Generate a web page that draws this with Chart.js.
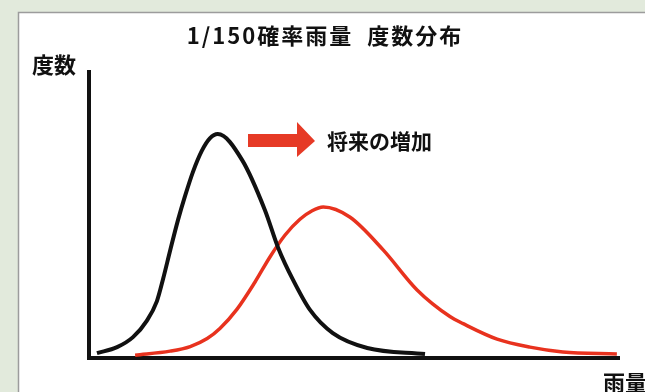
<!DOCTYPE html>
<html>
<head>
<meta charset="utf-8">
<script src="https://cdn.jsdelivr.net/npm/chart.js@4.4.1/dist/chart.umd.min.js"></script>
<style>
  html, body { margin: 0; padding: 0; background: #e2eadc; }
  #wrap { width: 645px; height: 392px; }
</style>
</head>
<body>
<div id="wrap"><canvas id="grafico" width="645" height="392"></canvas></div>
<script>
// 現在の分布 (黒)
const atualX = [1.5, 5.3, 8.3, 10.9, 12.8, 14.0, 15.3, 16.8, 18.1, 19.6, 21.3, 22.8, 24.3, 28.9, 33.2, 35.7, 38.5, 41.7, 46.0, 52.5, 63.4];
const atualY = [1.7, 3.8, 7.3, 13.0, 19.8, 27.8, 37.5, 48.3, 56.5, 65.0, 72.5, 76.8, 78.3, 69.2, 51.7, 38.5, 27.3, 16.8, 8.7, 3.5, 1.4];

// 将来の分布 (赤)
const futuroX = [8.7, 15.3, 19.1, 22.3, 24.7, 27.9, 31.3, 34.2, 37.0, 39.8, 42.1, 44.2, 49.2, 55.5, 61.9, 68.1, 70.6, 77.0, 83.2, 89.4, 99.6];
const futuroY = [1.0, 2.4, 4.0, 6.8, 10.3, 17.0, 26.5, 35.5, 43.0, 48.5, 51.5, 52.8, 49.3, 37.8, 23.8, 14.5, 12.0, 6.6, 3.8, 2.1, 1.4];

const titulo = "1/150確率雨量  度数分布";
const rotuloY = "度数";
const rotuloX = "雨量";
const rotuloSeta = "将来の増加";

const fonte = '"Noto Sans CJK JP", "Noto Sans", sans-serif';

function pontos(xs, ys) {
  let lista = [];
  for (let i = 0; i < xs.length; i++) {
    lista.push({ x: xs[i], y: ys[i] });
  }
  return lista;
}

// fundo, moldura e textos
const decoracao = {
  id: "decoracao",
  beforeDraw(chart) {
    const ctx = chart.ctx;
    ctx.save();
    ctx.fillStyle = "#e2eadc";
    ctx.fillRect(0, 0, chart.width, chart.height);
    ctx.fillStyle = "#ffffff";
    ctx.fillRect(18, 12, chart.width - 18, chart.height - 12);
    ctx.strokeStyle = "#9c9c9c";
    ctx.lineWidth = 1.5;
    ctx.beginPath();
    ctx.moveTo(18.5, chart.height);
    ctx.lineTo(18.5, 12.5);
    ctx.lineTo(chart.width, 12.5);
    ctx.stroke();
    ctx.restore();
  },
  afterDraw(chart) {
    const ctx = chart.ctx;
    ctx.save();
    ctx.fillStyle = "#111111";
    ctx.textBaseline = "middle";

    ctx.font = "bold 22px " + fonte;
    ctx.textAlign = "center";
    ctx.letterSpacing = "2px";
    ctx.fillText(titulo, 325, 36);
    ctx.letterSpacing = "0px";

    ctx.textAlign = "left";
    ctx.fillText(rotuloY, 32, 65);
    ctx.fillText(rotuloX, 603, 383);

    ctx.font = "bold 21px " + fonte;
    ctx.fillText(rotuloSeta, 327, 141);

    // seta vermelha
    ctx.fillStyle = "#e63a26";
    ctx.beginPath();
    ctx.moveTo(248, 134);
    ctx.lineTo(297, 134);
    ctx.lineTo(297, 122);
    ctx.lineTo(315, 141);
    ctx.lineTo(297, 157);
    ctx.lineTo(297, 147);
    ctx.lineTo(248, 147);
    ctx.closePath();
    ctx.fill();
    ctx.restore();
  },
};

const config = {
  type: "line",
  data: {
    datasets: [
      {
        label: "現在",
        data: pontos(atualX, atualY),
        borderColor: "#111111",
        borderWidth: 4,
        pointRadius: 0,
        fill: false,
        cubicInterpolationMode: "monotone",
      },
      {
        label: "将来",
        data: pontos(futuroX, futuroY),
        borderColor: "#e8321e",
        borderWidth: 3.5,
        pointRadius: 0,
        fill: false,
        cubicInterpolationMode: "monotone",
      },
    ],
  },
  options: {
    responsive: false,
    animation: false,
    layout: { padding: { left: 89, top: 72, right: 26, bottom: 34 } },
    plugins: { legend: { display: false }, tooltip: { enabled: false } },
    scales: {
      x: {
        type: "linear",
        min: 0,
        max: 100,
        grid: { display: false, drawTicks: false },
        ticks: { display: false },
        border: { display: true, color: "#111111", width: 4 },
      },
      y: {
        min: 0,
        max: 100,
        grid: { display: false, drawTicks: false },
        ticks: { display: false },
        border: { display: true, color: "#111111", width: 4 },
      },
    },
  },
  plugins: [decoracao],
};

let meuGrafico = new Chart(document.getElementById("grafico"), config);
</script>
</body>
</html>
